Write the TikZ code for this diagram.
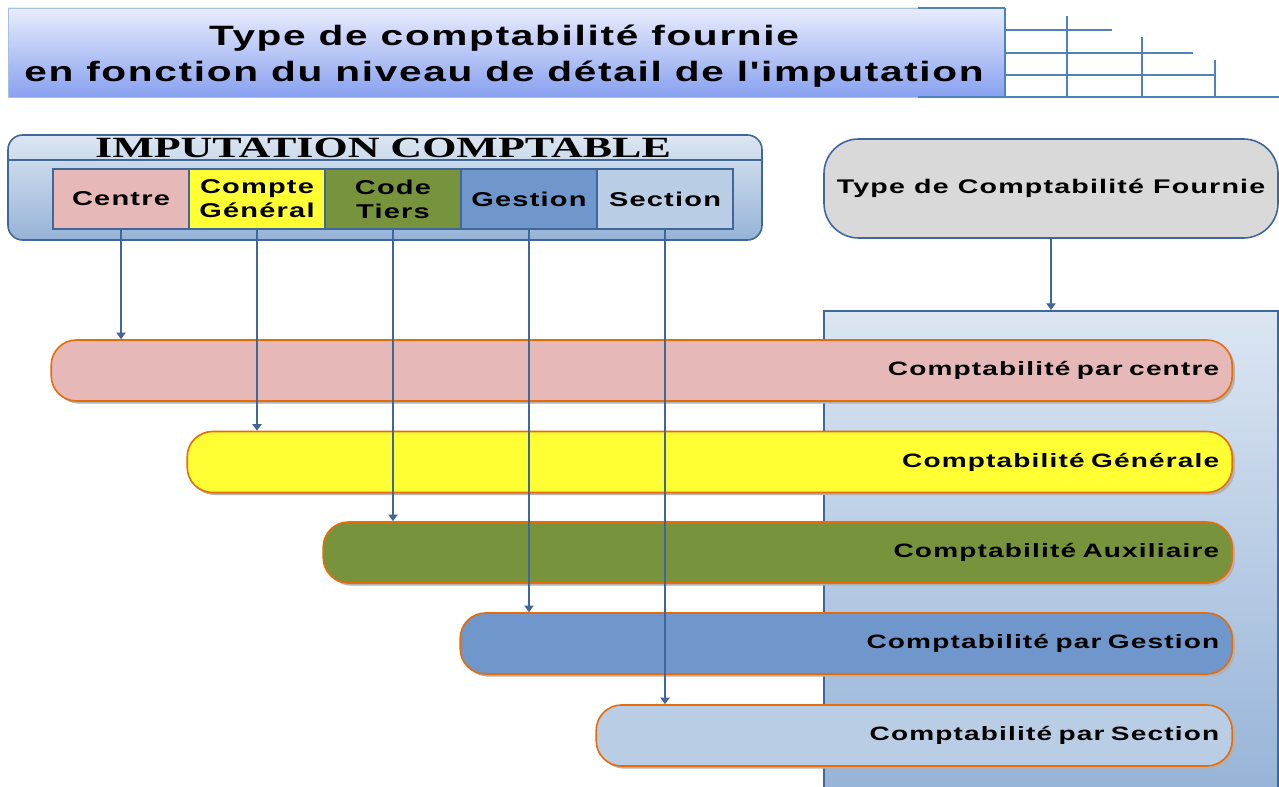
\documentclass[tikz,border=0pt]{standalone}
\usepackage{fontspec}
\setmainfont{Liberation Serif}
\newfontfamily\widesf[FakeStretch=1.45,LetterSpace=6]{Liberation Sans}
\newfontfamily\wideserif[FakeStretch=1.5]{Liberation Serif}
\usetikzlibrary{positioning, shadows, arrows.meta}

\definecolor{pinkfill}{HTML}{E6B9B8}
\definecolor{yellowfill}{HTML}{FFFF33}
\definecolor{olivefill}{HTML}{77933C}
\definecolor{bluefill}{HTML}{6F97CB}
\definecolor{paleblue}{HTML}{B9CDE5}
\definecolor{frameblue}{HTML}{41679A}
\definecolor{barorange}{HTML}{E46C0A}
\definecolor{gridblue}{HTML}{4F81BD}
\definecolor{typegray}{HTML}{D9D9D9}
\definecolor{paneltop}{HTML}{DCE6F2}
\definecolor{panelbot}{HTML}{95B3D7}
\definecolor{titletop}{HTML}{E8ECFC}
\definecolor{titlebot}{HTML}{88A1F0}

\tikzset{
  cell/.style={draw=frameblue, line width=0.8pt, minimum width=102pt, minimum height=45pt,
    inner sep=0pt, align=center, font=\widesf\bfseries\fontsize{15}{18}\selectfont},
  bar/.style={draw=barorange, line width=1.2pt, rounded corners=19pt, minimum height=45.75pt,
    inner xsep=9.75pt, align=right, anchor=east, font=\widesf\bfseries\fontsize{14.5}{16}\selectfont,
    drop shadow={shadow xshift=2pt, shadow yshift=-2pt, fill=black!30, opacity=1}},
  link/.style={draw=frameblue, line width=1pt, -{Triangle[length=5pt,width=7pt]}}
}

\begin{document}
\begin{tikzpicture}[x=0.75pt, y=-0.75pt]
  \useasboundingbox (0,0) rectangle (1279,787);
  \clip (0,0) rectangle (1279,787);

  % titre
  \draw[gridblue!50, top color=titletop, bottom color=titlebot] (8,8) rectangle (1005,97);
  \node[align=center, font=\widesf\bfseries\fontsize{21}{26.5}\selectfont]
    (titre) at (504,56) {Type de comptabilité fournie\\en fonction du niveau de détail de l'imputation};
  \draw[gridblue, line width=1.1pt]
    (918,8) -- (1005,8) (1005,8) -- (1005,97)
    (1005,30) -- (1112,30) (1005,53) -- (1193,53) (1005,75) -- (1215,75) (918,97) -- (1279,97)
    (1067,16) -- (1067,97) (1142,37) -- (1142,97) (1215,60) -- (1215,97);

  % imputation comptable
  \draw[frameblue, line width=1.2pt, rounded corners=11pt, top color=paneltop, bottom color=panelbot]
    (8,135) rectangle (762,240);
  \draw[frameblue, line width=1pt] (8,160) -- (762,160);
  \node[font=\wideserif\bfseries\fontsize{22}{22}\selectfont] (imput) at (383,148) {IMPUTATION COMPTABLE};

  \node[cell, fill=pinkfill] (centre) at (121,199) {Centre};
  \node[cell, fill=yellowfill, right=-0.8pt of centre] (general) {Compte\\Général};
  \node[cell, fill=olivefill, right=-0.8pt of general] (tiers) {Code\\Tiers};
  \node[cell, fill=bluefill, right=-0.8pt of tiers] (gestion) {Gestion};
  \node[cell, fill=paleblue, right=-0.8pt of gestion] (section) {Section};

  % type de comptabilite
  \node[draw=frameblue, line width=1.2pt, fill=typegray, rounded corners=26pt, minimum width=340.5pt,
    minimum height=74.25pt, font=\widesf\bfseries\fontsize{14.8}{16}\selectfont]
    (typecpt) at (1051,188.5) {Type de Comptabilité Fournie};
  \node[draw=frameblue, line width=1.2pt, top color=paneltop, bottom color=panelbot, minimum width=340.5pt,
    minimum height=367.5pt, anchor=north] (panel) at (1051,310) {};
  \draw[link] (typecpt) -- (panel);

  % barres
  \node[bar, fill=pinkfill, text width=866.25pt] (cptcentre) at (1233,370.5) {Comptabilité par centre};
  \node[bar, fill=yellowfill, text width=764.25pt] (cptgeneral) at (1233,462) {Comptabilité Générale};
  \node[bar, fill=olivefill, text width=662.25pt] (cpttiers) at (1233,552.5) {Comptabilité Auxiliaire};
  \node[bar, fill=bluefill, text width=559.5pt] (cptgestion) at (1233,643.5) {Comptabilité par Gestion};
  \node[bar, fill=paleblue, text width=457.5pt] (cptsection) at (1233,735.5) {Comptabilité par Section};

  \draw[link] (centre) -- (centre |- cptcentre.north);
  \draw[link] (general) -- (general |- cptgeneral.north);
  \draw[link] (tiers) -- (tiers |- cpttiers.north);
  \draw[link] (gestion) -- (gestion |- cptgestion.north);
  \draw[link] (section) -- (section |- cptsection.north);
\end{tikzpicture}
\end{document}
